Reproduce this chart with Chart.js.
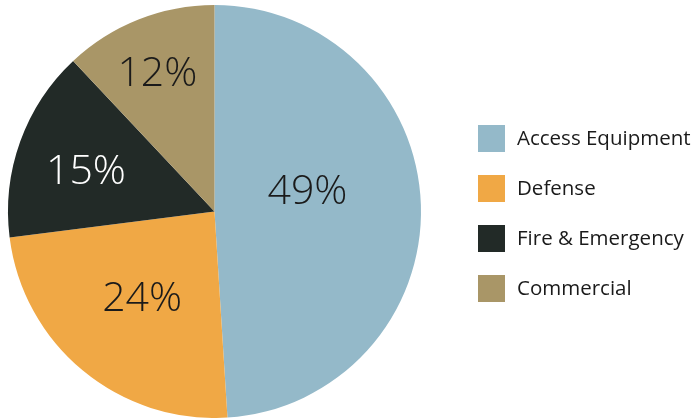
<!DOCTYPE html>
<html>
<head>
<meta charset="utf-8">
<script src="https://cdn.jsdelivr.net/npm/chart.js@4.4.1/dist/chart.umd.min.js"></script>
<style>
  html, body { margin: 0; padding: 0; background: #ffffff; }
  #wrap { width: 698px; height: 418px; position: relative; }
</style>
</head>
<body>
<div id="wrap"><canvas id="pie"></canvas></div>
<script>
const categories = ['Access Equipment', 'Defense', 'Fire & Emergency', 'Commercial'];
const shares = [49, 24, 15, 12];
const sliceColors = ['#94b9c9', '#f0a845', '#222a27', '#a99667'];
const labelColors = ['#1a1a1a', '#1a1a1a', '#ffffff', '#1a1a1a'];

const FONT = '"Open Sans", "Segoe UI", sans-serif';

// percentage labels inside slices (radius fraction + small angle tweak, degrees)
const sliceLabels = {
    id: 'sliceLabels',
    afterDatasetsDraw(chart, args, opts) {
        const ctx = chart.ctx;
        const meta = chart.getDatasetMeta(0);
        ctx.save();
        ctx.font = '300 41px ' + FONT;
        ctx.textAlign = 'center';
        ctx.textBaseline = 'middle';
        meta.data.forEach((arc, i) => {
            const mid = (arc.startAngle + arc.endAngle) / 2 + (opts.shift[i] || 0) * Math.PI / 180;
            const r = arc.outerRadius * opts.radius[i];
            ctx.fillStyle = labelColors[i];
            ctx.fillText(shares[i] + '%', arc.x + Math.cos(mid) * r, arc.y + Math.sin(mid) * r);
        });
        ctx.restore();
    }
};

// legend on the right
const sideLegend = {
    id: 'sideLegend',
    afterDraw(chart, args, opts) {
        const ctx = chart.ctx;
        ctx.save();
        ctx.font = '20.5px ' + FONT;
        ctx.textBaseline = 'middle';
        categories.forEach((name, i) => {
            const y = opts.top + i * opts.step;
            ctx.fillStyle = sliceColors[i];
            ctx.fillRect(opts.left, y, opts.box, opts.box);
            ctx.fillStyle = '#1a1a1a';
            ctx.fillText(name, opts.left + 39, y + opts.box / 2 + 1);
        });
        ctx.restore();
    }
};

new Chart(document.getElementById('pie'), {
    type: 'pie',
    data: {
        labels: categories,
        datasets: [{
            data: shares,
            backgroundColor: sliceColors,
            borderWidth: 0
        }]
    },
    options: {
        responsive: true,
        maintainAspectRatio: false,
        animation: false,
        layout: { padding: { left: 8, top: 5, right: 277, bottom: 0 } },
        plugins: {
            legend: { display: false },
            tooltip: { enabled: false },
            sliceLabels: { radius: [0.46, 0.55, 0.65, 0.72], shift: [-10, 0, -3, -1] },
            sideLegend: { left: 478, top: 125, step: 50, box: 27 }
        }
    },
    plugins: [sliceLabels, sideLegend]
});
</script>
</body>
</html>
